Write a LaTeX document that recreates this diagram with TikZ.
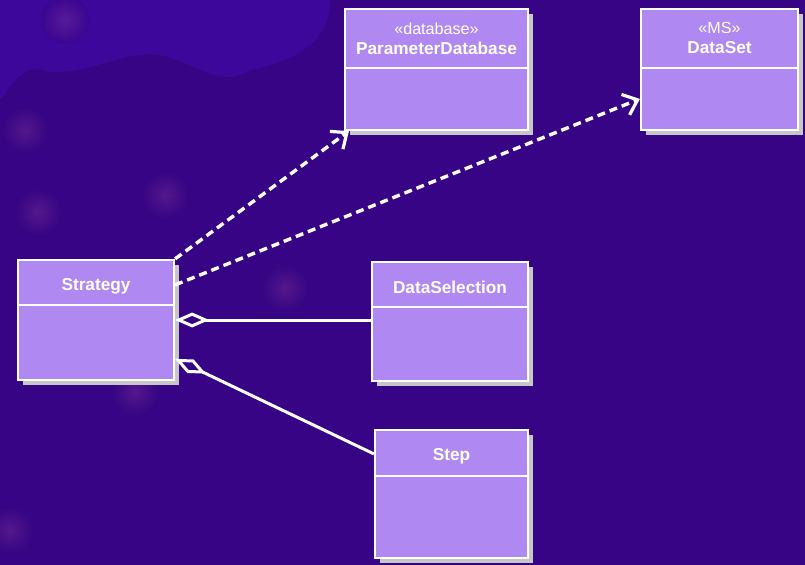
\documentclass[tikz,border=0pt]{standalone}
\usepackage{fontspec}
\setmainfont{Liberation Sans}
\usetikzlibrary{arrows.meta,shadows}
\definecolor{bgpurple}{RGB}{54,4,132}
\definecolor{bgblue}{RGB}{66,10,172}
\definecolor{classfill}{RGB}{176,136,242}
\definecolor{glow}{RGB}{120,50,150}
\tikzset{
  classbox/.style={draw=white, line width=2.2bp, fill=classfill, rectangle, inner sep=0pt,
    drop shadow={shadow xshift=5bp, shadow yshift=-5bp, fill=black!22, opacity=1}},
  divider/.style={draw=white, line width=2bp},
  cname/.style={text=white, font=\fontsize{17.3}{19}\selectfont\bfseries, inner sep=0pt},
  stereo/.style={text=white, font=\fontsize{16.2}{17}\selectfont, inner sep=0pt},
  dep/.style={draw=white, line width=3.4bp, dash pattern=on 8bp off 5bp,
    -{Straight Barb[length=13bp,width=22bp,line width=3.2bp]}},
  agg/.style={draw=white, line width=3bp,
    {Diamond[open,length=34bp,width=15bp,line width=3bp]}-},
}
\begin{document}
\begin{tikzpicture}[x=1bp,y=-1bp]
\useasboundingbox (0,0) rectangle (805,565);
\fill[bgpurple] (0,0) rectangle (805,565);
% lighter top-left region
\fill[bgblue, opacity=0.6] (0,0) -- (330,0) .. controls (330,40) and (300,60) .. (250,70)
  .. controls (220,90) and (190,60) .. (160,55) .. controls (120,50) and (80,80) .. (40,70)
  .. controls (20,65) and (10,90) .. (0,100) -- cycle;
% faint glows
\foreach \gx/\gy in {65/20, 25/130, 38/212, 165/195, 285/288, 135/392, 10/530}{
  \shade[inner color=glow, outer color=bgpurple, opacity=0.45] (\gx,\gy) circle (24);
}
% classes
\node[classbox, minimum width=183bp, minimum height=121bp] (pd) at (436.5,69.5) {};
\node[classbox, minimum width=157bp, minimum height=121bp] (ds) at (719.5,69.5) {};
\node[classbox, minimum width=156bp, minimum height=120bp] (st) at (96,320) {};
\node[classbox, minimum width=156bp, minimum height=119bp] (dsel) at (450,321.5) {};
\node[classbox, minimum width=153bp, minimum height=128bp] (step) at (451.5,494) {};
% dividers
\draw[divider] ([yshift=-60bp]pd.north west) -- ([yshift=-60bp]pd.north east);
\draw[divider] ([yshift=-60bp]ds.north west) -- ([yshift=-60bp]ds.north east);
\draw[divider] ([yshift=-46bp]st.north west) -- ([yshift=-46bp]st.north east);
\draw[divider] ([yshift=-46bp]dsel.north west) -- ([yshift=-46bp]dsel.north east);
\draw[divider] ([yshift=-47bp]step.north west) -- ([yshift=-47bp]step.north east);
% texts
\node[stereo] (pdst) at (436.5,29) {«database»};
\node[cname] (pdn) at (436.5,48) {ParameterDatabase};
\node[stereo] (dsst) at (719.5,28) {«MS»};
\node[cname] (dsn) at (719.5,48) {DataSet};
\node[cname] (stn) at (96,286) {Strategy};
\node[cname] (dseln) at (450,287) {DataSelection};
\node[cname] (stepn) at (451.5,456) {Step};
% connectors
\draw[dep] (st.north east) -- ([xshift=5bp]pd.south west);
\draw[dep] ([yshift=-26bp]st.north east) -- ([yshift=-91bp]ds.north west);
\draw[agg] (st.east) -- (st.east -| dsel.west);
\draw[agg] ([yshift=-100bp]st.north east) -- ([yshift=-25bp]step.north west);
\end{tikzpicture}
\end{document}
